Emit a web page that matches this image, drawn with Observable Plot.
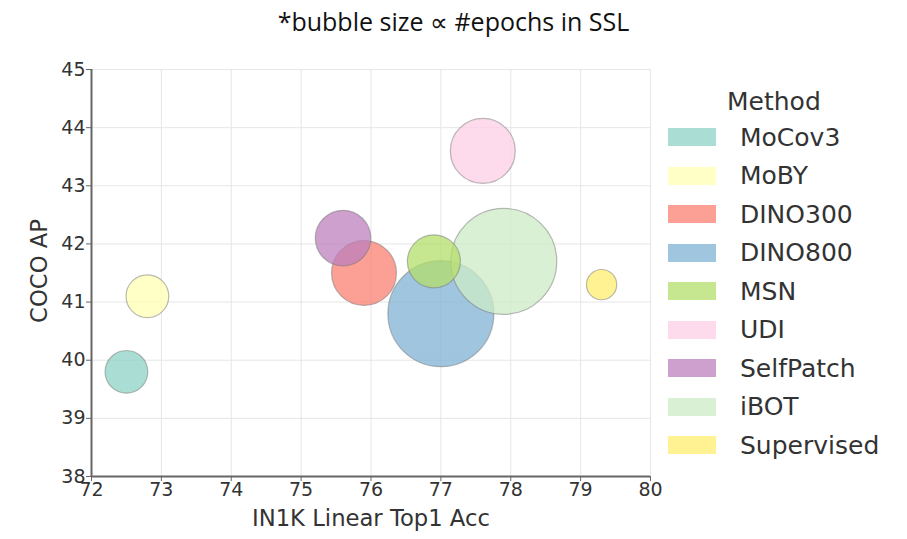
<!DOCTYPE html>
<html>
<head>
<meta charset="utf-8">
<script src="https://cdn.jsdelivr.net/npm/d3@7"></script>
<script src="https://cdn.jsdelivr.net/npm/@observablehq/plot@0.6"></script>
<style>
  html, body { margin: 0; padding: 0; background: #fff; }
  #wrap { position: relative; width: 907px; height: 539px; overflow: hidden; font-family: "DejaVu Sans", sans-serif; }
  #title { position: absolute; left: 0; top: 4px; width: 907px; text-align: center; font-family: "Open Sans", sans-serif; font-size: 25px; color: #111; }
  #chart { position: absolute; left: 0; top: 50px; }
  .axlabel { position: absolute; font-size: 22.7px; color: #333; white-space: nowrap; }
  #legend { position: absolute; left: 668px; top: 85px; color: #333; }
  #legend .lt { font-size: 25px; margin-left: 59px; height: 33px; line-height: 33px; }
  #legend .row { display: flex; align-items: center; height: 38.5px; font-size: 25px; }
  #legend .sw { width: 48px; height: 18px; margin-right: 24px; }
</style>
</head>
<body>
<div id="wrap">
  <div id="title">*bubble size ∝ #epochs in SSL</div>
  <div id="chart"></div>
  <div class="axlabel" id="xlab" style="left:252px; top:505px;">IN1K Linear Top1 Acc</div>
  <div class="axlabel" id="ylab" style="left:-13px; top:258px; transform: rotate(-90deg); transform-origin: center;">COCO AP</div>
  <div id="legend"></div>
</div>
<script>
const methods = ["MoCov3", "MoBY", "DINO300", "DINO800", "MSN", "UDI", "SelfPatch", "iBOT", "Supervised"];
const in1kAcc = [72.5, 72.8, 75.9, 77.0, 76.9, 77.6, 75.6, 77.9, 79.3];
const cocoAP  = [39.8, 41.1, 41.5, 40.8, 41.7, 43.6, 42.1, 41.7, 41.3];
const epochs  = [130, 130, 300, 800, 200, 300, 220, 800, 65];
const colors  = ["#8dd3c7", "#ffffb3", "#fb8072", "#80b1d3", "#b3de69", "#fccde5", "#bc80bd", "#ccebc5", "#ffed6f"];
const xTicks = [72, 73, 74, 75, 76, 77, 78, 79, 80];
const yTicks = [38, 39, 40, 41, 42, 43, 44, 45];

const data = methods.map((m, i) => ({method: m, x: in1kAcc[i], y: cocoAP[i], size: epochs[i]}));

const plot = Plot.plot({
  width: 907,
  height: 489,
  marginLeft: 91,
  marginRight: 257,
  marginTop: 19,
  marginBottom: 63,
  style: {fontFamily: "DejaVu Sans, sans-serif", fontSize: "19px", color: "#333", background: "transparent"},
  x: {domain: [72, 80], label: null},
  y: {domain: [38, 45], label: null},
  r: {type: "sqrt", domain: [0, 800], range: [0, 53]},
  color: {domain: methods, range: colors},
  marks: [
    Plot.gridX(xTicks, {stroke: "#e6e6e6", strokeOpacity: 1, strokeWidth: 1}),
    Plot.gridY(yTicks, {stroke: "#e6e6e6", strokeOpacity: 1, strokeWidth: 1}),
    Plot.dot(data, {x: "x", y: "y", r: "size", fill: "method", fillOpacity: 0.75, stroke: "#777", strokeOpacity: 0.5, strokeWidth: 1.2}),
    Plot.ruleX([72], {stroke: "#666", strokeWidth: 2}),
    Plot.ruleY([38], {stroke: "#666", strokeWidth: 2}),
    Plot.axisX(xTicks, {tickSize: 5, stroke: "#666", tickPadding: 1, fontSize: 19, fill: "#333", tickFormat: d => String(d), label: null}),
    Plot.axisY(yTicks, {tickSize: 5, stroke: "#666", tickPadding: 1, fontSize: 19, fill: "#333", tickFormat: d => String(d), label: null})
  ]
});
document.getElementById("chart").appendChild(plot);

const legend = document.getElementById("legend");
const lt = document.createElement("div");
lt.className = "lt";
lt.textContent = "Method";
legend.appendChild(lt);
methods.forEach((m, i) => {
  const row = document.createElement("div");
  row.className = "row";
  const sw = document.createElement("div");
  sw.className = "sw";
  sw.style.background = colors[i];
  sw.style.opacity = 0.75;
  const t = document.createElement("span");
  t.textContent = m;
  row.appendChild(sw);
  row.appendChild(t);
  legend.appendChild(row);
});
</script>
</body>
</html>
